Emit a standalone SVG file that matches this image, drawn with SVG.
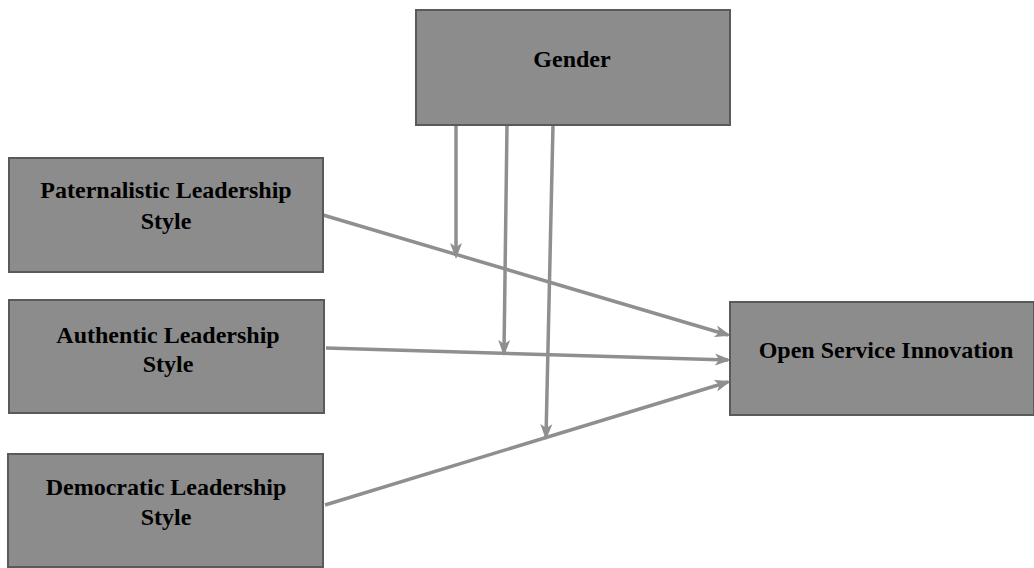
<svg xmlns="http://www.w3.org/2000/svg" width="1034" height="568" viewBox="0 0 1034 568">
<style>
.box{fill:#8c8c8c;stroke:#5a5a5a;stroke-width:2}
.t{font-family:"Liberation Serif",serif;font-weight:bold;font-size:24px;fill:#000;text-anchor:middle}
.c{stroke:#8f8f8f;stroke-width:3.5;fill:none;marker-end:url(#ah)}
</style>
<defs>
<marker id="ah" markerWidth="16" markerHeight="16" refX="13" refY="8" orient="auto" markerUnits="userSpaceOnUse" viewBox="0 0 16 16">
<path d="M0,2 L16,8 L0,14 L4,8 Z" fill="#8f8f8f"/>
</marker>
</defs>
<rect width="1034" height="568" fill="#fff"/>
<g id="connectors">
<line x1="323" y1="215" x2="728" y2="335" class="c"/>
<line x1="326" y1="348" x2="728" y2="360" class="c"/>
<line x1="325" y1="505" x2="728" y2="382" class="c"/>
<line x1="456" y1="125" x2="456" y2="256" class="c"/>
<line x1="507" y1="125" x2="504" y2="353" class="c"/>
<line x1="553" y1="125" x2="546" y2="437" class="c"/>
</g>
<g id="gender">
<rect class="box" x="416" y="10" width="314" height="115"/>
<text class="t" x="572" y="67">Gender</text>
</g>
<g id="paternalistic">
<rect class="box" x="9" y="158" width="314" height="114"/>
<text class="t" x="166" y="198">Paternalistic Leadership</text>
<text class="t" x="166" y="229">Style</text>
</g>
<g id="authentic">
<rect class="box" x="9" y="300" width="315" height="113"/>
<text class="t" x="168" y="343">Authentic Leadership</text>
<text class="t" x="168" y="372">Style</text>
</g>
<g id="democratic">
<rect class="box" x="8" y="454" width="315" height="113"/>
<text class="t" x="166" y="495">Democratic Leadership</text>
<text class="t" x="166" y="525">Style</text>
</g>
<g id="osi">
<rect class="box" x="730" y="302" width="304" height="113"/>
<text class="t" x="886" y="358">Open Service Innovation</text>
</g>
</svg>
